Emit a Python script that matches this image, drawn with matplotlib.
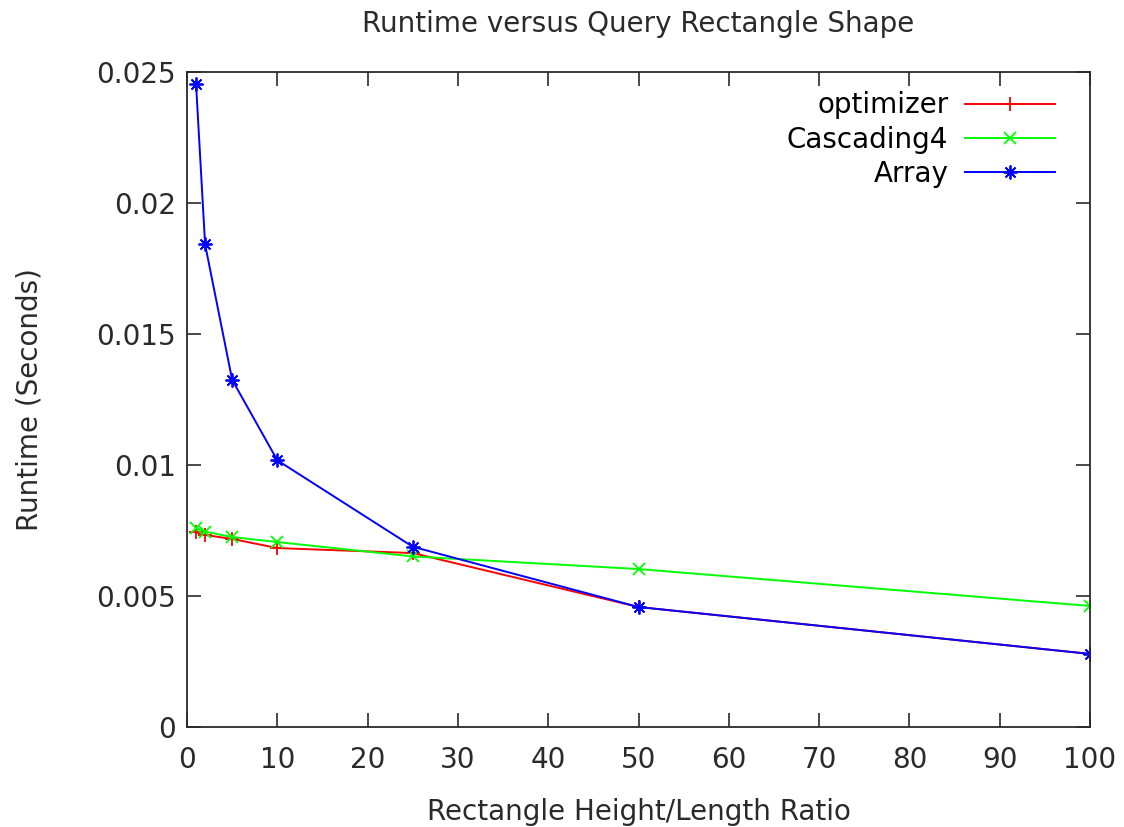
import matplotlib
matplotlib.use("Agg")
import matplotlib.pyplot as plt

# rectangle height/length ratio
ratio = [1, 2, 5, 10, 25, 50, 100]

# runtimes in seconds
optimizer = [0.00744, 0.00733, 0.00718, 0.00683, 0.00664, 0.00458, 0.00279]
cascading4 = [0.00760, 0.00746, 0.00725, 0.00706, 0.00651, 0.00603, 0.00462]
array = [0.02454, 0.01842, 0.01325, 0.01018, 0.00688, 0.00458, 0.00279]

x_ticks = [0, 10, 20, 30, 40, 50, 60, 70, 80, 90, 100]
y_ticks = [0, 0.005, 0.01, 0.015, 0.02, 0.025]
y_labels = ["0", "0.005", "0.01", "0.015", "0.02", "0.025"]

plt.rcParams["font.family"] = "DejaVu Sans"
txt = "#2a2a2a"

fig = plt.figure(figsize=(11.24, 8.27), dpi=100)
ax = fig.add_axes([0.1664, 0.1209, 0.8034, 0.7920])

ax.plot(ratio, optimizer, color="#ff0000", lw=1.4, marker="+", ms=10, mew=1.3, label="optimizer")
ax.plot(ratio, cascading4, color="#00ff00", lw=1.4, marker="x", ms=8, mew=1.3, label="Cascading4")
ax.plot(ratio, array, color="#0000ff", lw=1.4, marker=(8, 2, 0), ms=10, mew=1.3, label="Array")

ax.set_xlim(0, 100)
ax.set_ylim(0, 0.025)
ax.set_xticks(x_ticks)
ax.set_yticks(y_ticks)
ax.set_yticklabels(y_labels)
ax.tick_params(direction="in", length=10, width=1.2, top=True, right=True,
               labelsize=20, colors=txt)
ax.tick_params(axis="x", pad=14)
ax.tick_params(axis="y", pad=8)
for s in ax.spines.values():
    s.set_linewidth(1.3)
    s.set_color(txt)

ax.set_title("Runtime versus Query Rectangle Shape", fontsize=20, color=txt, pad=29)
ax.set_xlabel("Rectangle Height/Length Ratio", fontsize=20, color=txt, labelpad=17)
ax.set_ylabel("Runtime (Seconds)", fontsize=20, color=txt, labelpad=38)

ax.legend(loc="upper right", frameon=False, markerfirst=False, fontsize=20,
          handlelength=3.25, handletextpad=0.6, labelspacing=0.22,
          borderaxespad=0.3, bbox_to_anchor=(0.983, 1.0))

fig.savefig("out.png", dpi=100)
